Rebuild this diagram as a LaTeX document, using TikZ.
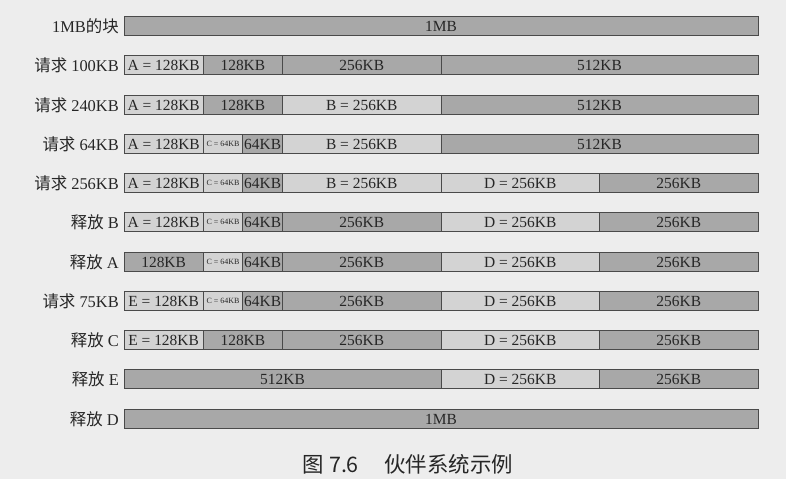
\documentclass[tikz,border=0pt]{standalone}
\usepackage{fontspec}
\setmainfont{Liberation Serif}
\newfontfamily\cjk{Noto Sans CJK SC}
\definecolor{bgc}{HTML}{EDEDED}
\definecolor{allocc}{HTML}{D3D3D3}
\definecolor{freec}{HTML}{A8A8A8}
\definecolor{edgec}{HTML}{4A4A4A}
\definecolor{txtc}{HTML}{262626}
% \cellnode{name}{start unit}{length units}{style}{y}{text}
\newcommand\cellnode[6]{\node[#4, minimum width=#3*39.625bp] (#1) at ({124+#2*39.625},#5) {#6};}
\newcommand\zh[1]{{\cjk #1}}
\begin{document}
\begin{tikzpicture}[x=1bp,y=-1bp,
  cell/.style={draw=edgec,line width=0.9bp,minimum height=19.5bp,inner sep=0pt,outer sep=0pt,anchor=west,
    font=\fontsize{15.5}{15.5}\selectfont,text=txtc},
  alloc/.style={cell,fill=allocc},
  free/.style={cell,fill=freec},
  small/.style={font=\fontsize{8}{8}\selectfont},
  rowlabel/.style={anchor=east,inner sep=0pt,font=\fontsize{16.5}{16.5}\selectfont,text=txtc},
  caption/.style={inner sep=0pt,font=\cjk\fontsize{21.5}{21.5}\selectfont,text=txtc}]
\fill[bgc] (0,0) rectangle (786,479);
\useasboundingbox (0,0) rectangle (786,479);

% row 1
\node[rowlabel] (l1) at (119,26) {1MB\zh{的块}};
\cellnode{r1a}{0}{16}{free}{26}{1MB}
% row 2
\node[rowlabel] (l2) at (119,65) {\zh{请求} 100KB};
\cellnode{r2a}{0}{2}{alloc}{65}{A = 128KB}
\cellnode{r2b}{2}{2}{free}{65}{128KB}
\cellnode{r2c}{4}{4}{free}{65}{256KB}
\cellnode{r2d}{8}{8}{free}{65}{512KB}
% row 3
\node[rowlabel] (l3) at (119,105) {\zh{请求} 240KB};
\cellnode{r3a}{0}{2}{alloc}{105}{A = 128KB}
\cellnode{r3b}{2}{2}{free}{105}{128KB}
\cellnode{r3c}{4}{4}{alloc}{105}{B = 256KB}
\cellnode{r3d}{8}{8}{free}{105}{512KB}
% row 4
\node[rowlabel] (l4) at (119,144) {\zh{请求} 64KB};
\cellnode{r4a}{0}{2}{alloc}{144}{A = 128KB}
\cellnode{r4b}{2}{1}{alloc,small}{144}{C = 64KB}
\cellnode{r4c}{3}{1}{free}{144}{64KB}
\cellnode{r4d}{4}{4}{alloc}{144}{B = 256KB}
\cellnode{r4e}{8}{8}{free}{144}{512KB}
% row 5
\node[rowlabel] (l5) at (119,183) {\zh{请求} 256KB};
\cellnode{r5a}{0}{2}{alloc}{183}{A = 128KB}
\cellnode{r5b}{2}{1}{alloc,small}{183}{C = 64KB}
\cellnode{r5c}{3}{1}{free}{183}{64KB}
\cellnode{r5d}{4}{4}{alloc}{183}{B = 256KB}
\cellnode{r5e}{8}{4}{alloc}{183}{D = 256KB}
\cellnode{r5f}{12}{4}{free}{183}{256KB}
% row 6
\node[rowlabel] (l6) at (119,222) {\zh{释放} B};
\cellnode{r6a}{0}{2}{alloc}{222}{A = 128KB}
\cellnode{r6b}{2}{1}{alloc,small}{222}{C = 64KB}
\cellnode{r6c}{3}{1}{free}{222}{64KB}
\cellnode{r6d}{4}{4}{free}{222}{256KB}
\cellnode{r6e}{8}{4}{alloc}{222}{D = 256KB}
\cellnode{r6f}{12}{4}{free}{222}{256KB}
% row 7
\node[rowlabel] (l7) at (119,262) {\zh{释放} A};
\cellnode{r7a}{0}{2}{free}{262}{128KB}
\cellnode{r7b}{2}{1}{alloc,small}{262}{C = 64KB}
\cellnode{r7c}{3}{1}{free}{262}{64KB}
\cellnode{r7d}{4}{4}{free}{262}{256KB}
\cellnode{r7e}{8}{4}{alloc}{262}{D = 256KB}
\cellnode{r7f}{12}{4}{free}{262}{256KB}
% row 8
\node[rowlabel] (l8) at (119,301) {\zh{请求} 75KB};
\cellnode{r8a}{0}{2}{alloc}{301}{E = 128KB}
\cellnode{r8b}{2}{1}{alloc,small}{301}{C = 64KB}
\cellnode{r8c}{3}{1}{free}{301}{64KB}
\cellnode{r8d}{4}{4}{free}{301}{256KB}
\cellnode{r8e}{8}{4}{alloc}{301}{D = 256KB}
\cellnode{r8f}{12}{4}{free}{301}{256KB}
% row 9
\node[rowlabel] (l9) at (119,340) {\zh{释放} C};
\cellnode{r9a}{0}{2}{alloc}{340}{E = 128KB}
\cellnode{r9b}{2}{2}{free}{340}{128KB}
\cellnode{r9c}{4}{4}{free}{340}{256KB}
\cellnode{r9d}{8}{4}{alloc}{340}{D = 256KB}
\cellnode{r9e}{12}{4}{free}{340}{256KB}
% row 10
\node[rowlabel] (l10) at (119,379) {\zh{释放} E};
\cellnode{r10a}{0}{8}{free}{379}{512KB}
\cellnode{r10b}{8}{4}{alloc}{379}{D = 256KB}
\cellnode{r10c}{12}{4}{free}{379}{256KB}
% row 11
\node[rowlabel] (l11) at (119,419) {\zh{释放} D};
\cellnode{r11a}{0}{16}{free}{419}{1MB}

\node[caption] (cap) at (408,464) {图 7.6\hspace{1.2em}伙伴系统示例};
\end{tikzpicture}
\end{document}
